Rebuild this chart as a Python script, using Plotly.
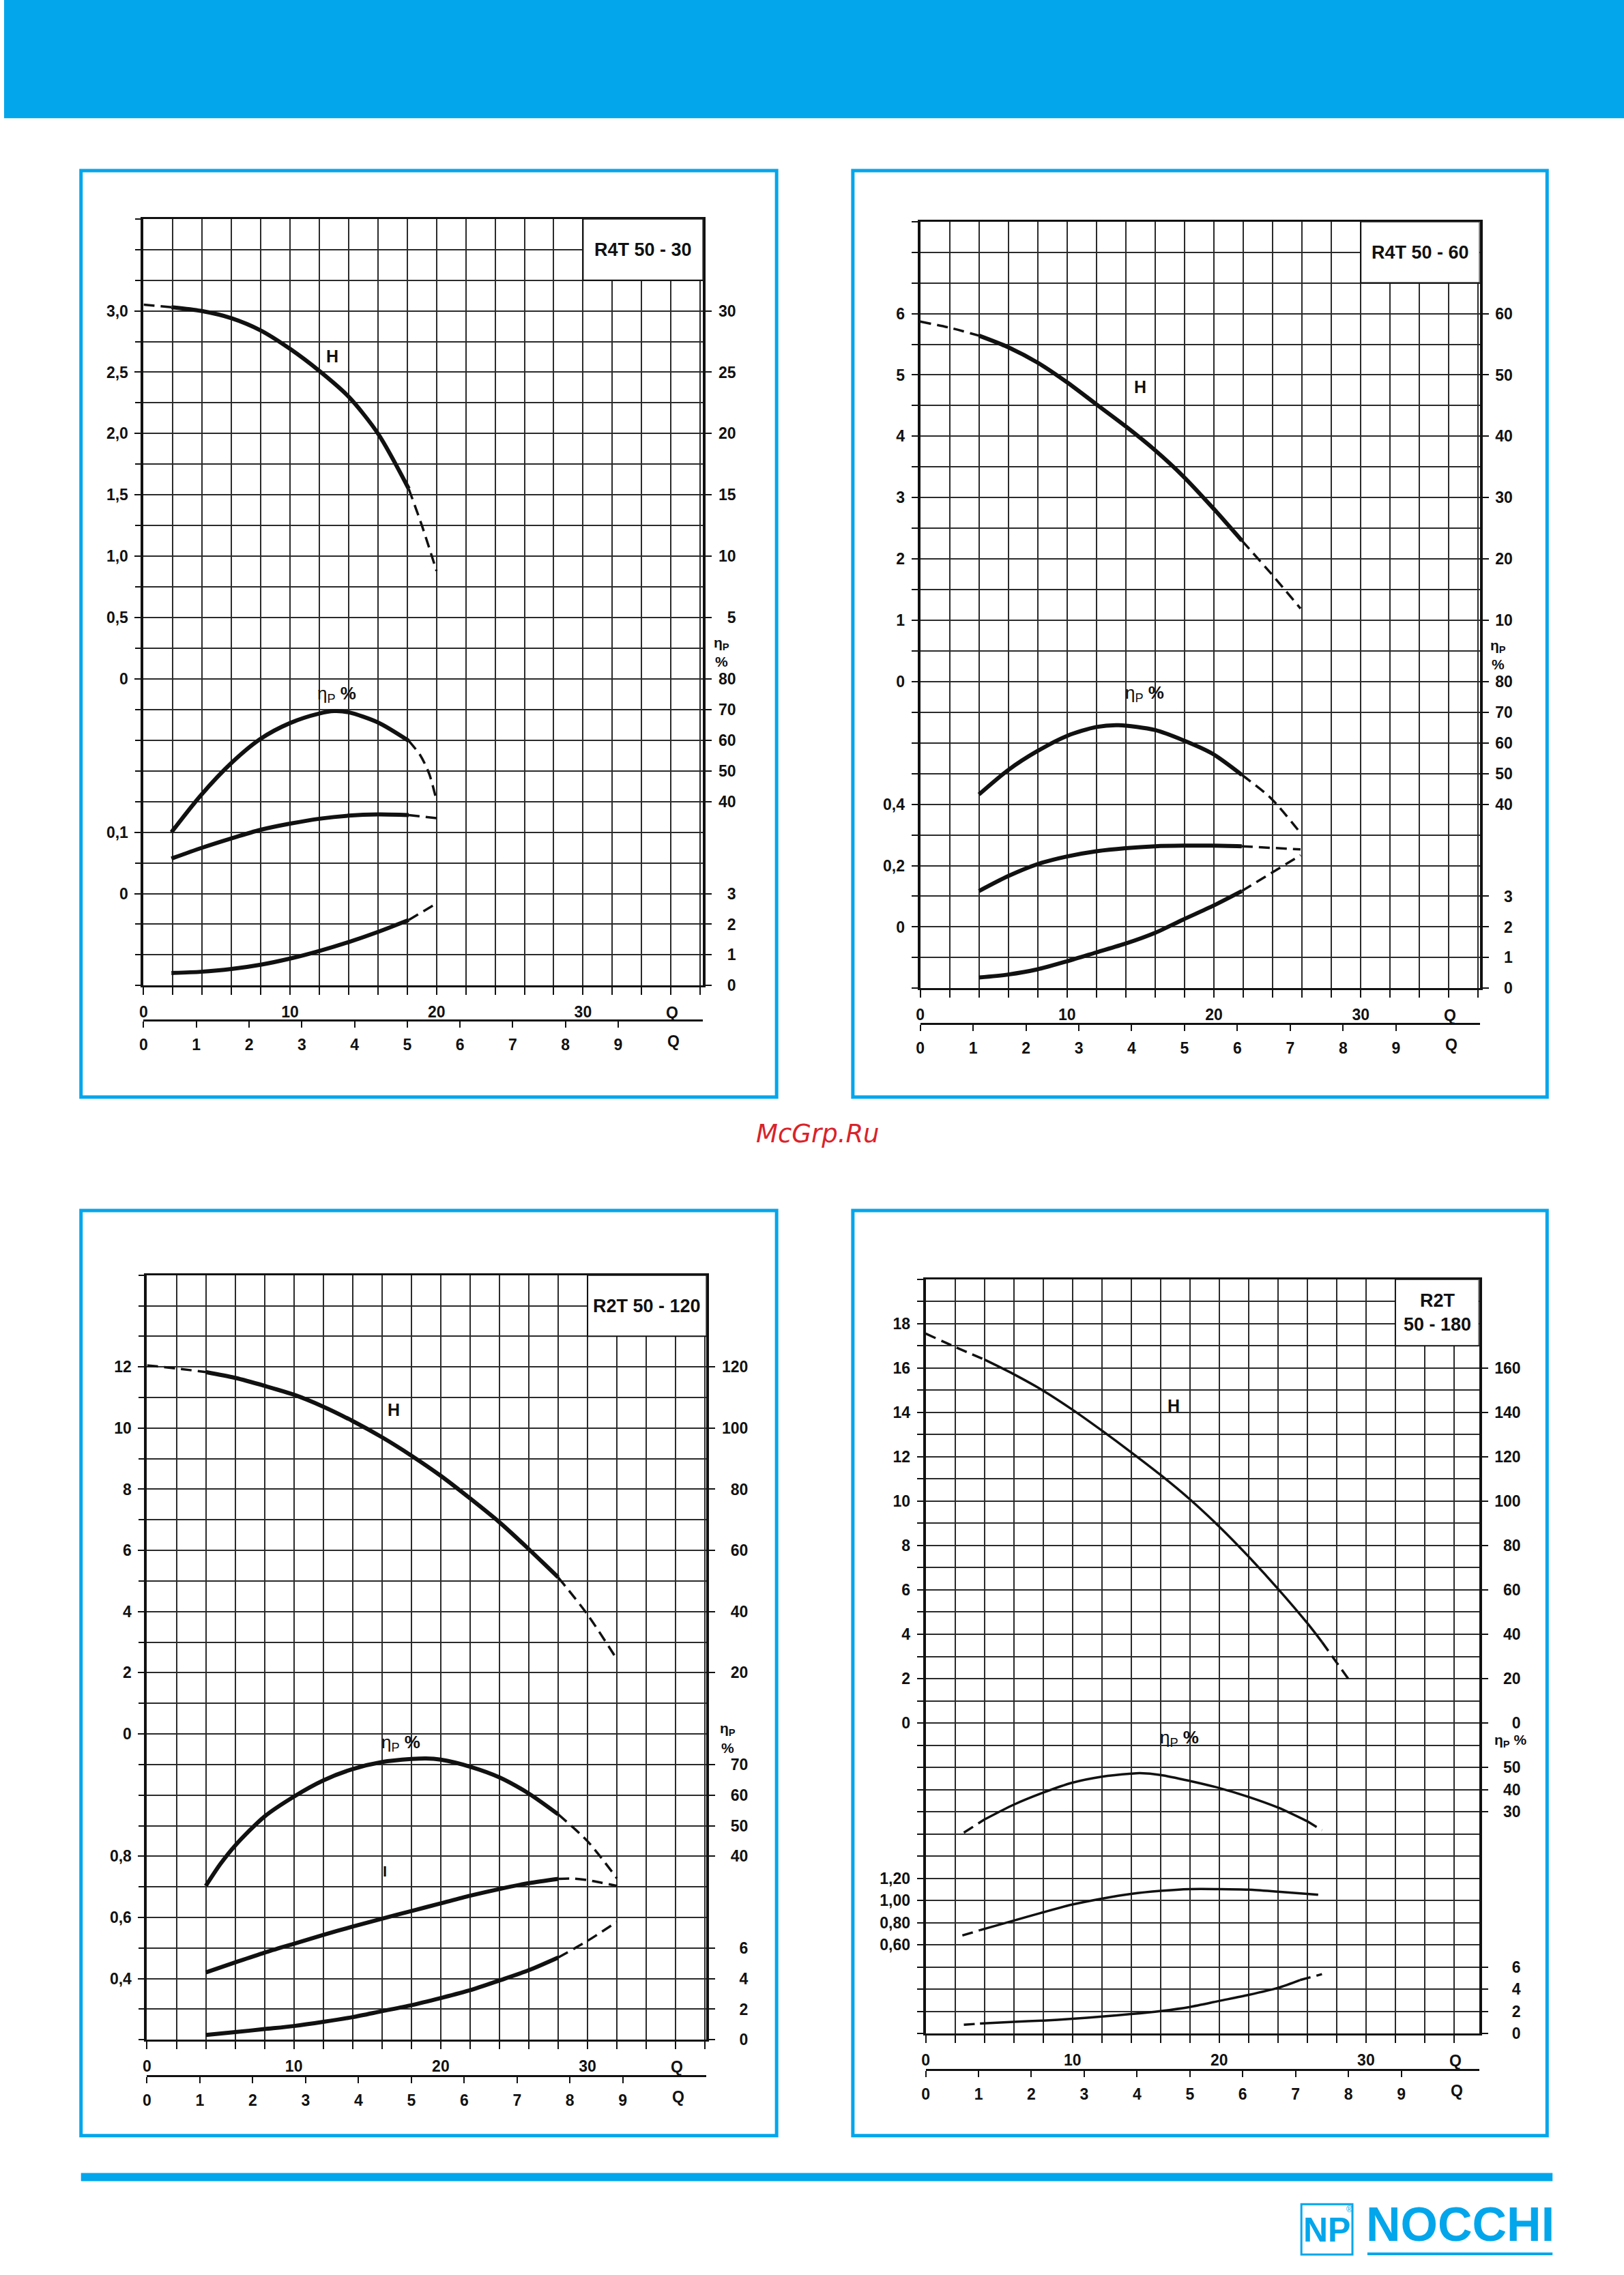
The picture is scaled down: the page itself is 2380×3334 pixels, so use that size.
import plotly.graph_objects as go

# ====================== DATA (read from the scanned sheet) ======================
Q_MAJOR_VALUES = [0, 10, 20, 30]
Q_MAJOR_LABELS = ['0', '10', '20', '30']
LS_TICKS = [0, 1, 2, 3, 4, 5, 6, 7, 8, 9]
LS_LABELS = ['0', '1', '2', '3', '4', '5', '6', '7', '8', '9']

# ---- R4T 50 - 30 ----
A_TITLE = 'R4T 50 - 30'
A_H_Q = [0, 1.9, 3.9, 6, 8, 10, 12, 14, 16, 18.1, 19, 20]
A_H = [3.05, 3.03, 3.00, 2.94, 2.84, 2.69, 2.51, 2.30, 2.00, 1.55, 1.25, 0.88]
A_ETA_Q = [1.9, 3.9, 6, 8, 10, 12, 13, 14, 16, 18.1, 18.9, 19.5, 20]
A_ETA = [30, 42, 52.6, 60.5, 65.6, 68.7, 69.5, 69.1, 65.8, 59.8, 55, 49, 40.3]
A_P_Q = [1.9, 3.9, 6, 8, 10, 12, 14, 16, 18.1, 20]
A_P = [0.057, 0.074, 0.090, 0.104, 0.114, 0.122, 0.127, 0.129, 0.128, 0.123]
A_NPSH_Q = [1.9, 3.9, 6, 8, 10, 12, 14, 16, 18.1, 20]
A_NPSH = [0.41, 0.45, 0.54, 0.68, 0.88, 1.13, 1.42, 1.75, 2.14, 2.68]
A_SOLID = [1.9, 18.1]
A_H_TICKS = [0, 0.5, 1.0, 1.5, 2.0, 2.5, 3.0]
A_H_LABELS = ['0', '0,5', '1,0', '1,5', '2,0', '2,5', '3,0']
A_HM_TICKS = [5, 10, 15, 20, 25, 30]
A_HM_LABELS = ['5', '10', '15', '20', '25', '30']
A_ETA_TICKS = [40, 50, 60, 70, 80]
A_ETA_LABELS = ['40', '50', '60', '70', '80']
A_P_TICKS = [0, 0.1]
A_P_LABELS = ['0', '0,1']
A_N_TICKS = [0, 1, 2, 3]
A_N_LABELS = ['0', '1', '2', '3']

# ---- R4T 50 - 60 ----
B_TITLE = 'R4T 50 - 60'
B_H_Q = [0, 2, 4, 6, 8, 10, 12, 14, 16, 17.9, 19.9, 21.9, 23.9, 25.9]
B_H = [5.87, 5.77, 5.64, 5.45, 5.20, 4.88, 4.52, 4.16, 3.77, 3.35, 2.84, 2.30, 1.76, 1.19]
B_ETA_Q = [4, 6, 8, 10, 12, 13.5, 16, 17.9, 19.9, 21.9, 23.9, 25.9]
B_ETA = [43.2, 51.2, 57.4, 62.3, 65.2, 65.8, 64.2, 60.9, 56.5, 49.6, 41.9, 30.6]
B_P_Q = [4, 6, 8, 10, 12, 14, 16, 17.9, 19.9, 21.9, 25.9]
B_P = [0.117, 0.166, 0.205, 0.230, 0.247, 0.257, 0.263, 0.265, 0.265, 0.263, 0.253]
B_NPSH_Q = [4, 6, 8, 10, 12, 14, 16, 17.9, 19.9, 21.9, 25.9]
B_NPSH = [0.35, 0.45, 0.62, 0.88, 1.17, 1.46, 1.81, 2.24, 2.68, 3.17, 4.34]
B_SOLID = [4, 21.9]
B_H_TICKS = [0, 1, 2, 3, 4, 5, 6]
B_H_LABELS = ['0', '1', '2', '3', '4', '5', '6']
B_HM_TICKS = [10, 20, 30, 40, 50, 60]
B_HM_LABELS = ['10', '20', '30', '40', '50', '60']
B_ETA_TICKS = [40, 50, 60, 70, 80]
B_ETA_LABELS = ['40', '50', '60', '70', '80']
B_P_TICKS = [0, 0.2, 0.4]
B_P_LABELS = ['0', '0,2', '0,4']
B_N_TICKS = [0, 1, 2, 3]
B_N_LABELS = ['0', '1', '2', '3']

# ---- R2T 50 - 120 ----
C_TITLE = 'R2T 50 - 120'
C_H_Q = [0, 2, 4, 6, 8, 10, 12, 14, 16, 18, 20, 22, 24, 26, 28, 30, 32]
C_H = [12.05, 11.95, 11.83, 11.64, 11.38, 11.09, 10.70, 10.23, 9.70, 9.10, 8.44, 7.70, 6.92, 6.04, 5.12, 3.90, 2.44]
C_ETA_Q = [4, 5, 6, 8, 10, 12, 14, 16, 18, 19, 20, 22, 24, 26, 28, 30, 32]
C_ETA = [30.3, 37.5, 43.5, 53.0, 59.5, 64.8, 68.5, 70.8, 71.8, 72.0, 71.6, 69.3, 65.8, 60.5, 53.7, 44.9, 32.8]
C_P_Q = [4, 6, 8, 10, 12, 14, 16, 18, 20, 22, 24, 26, 28, 29, 30, 32]
C_P = [0.420, 0.453, 0.485, 0.514, 0.543, 0.570, 0.596, 0.621, 0.646, 0.671, 0.693, 0.712, 0.726, 0.727, 0.722, 0.703]
C_NPSH_Q = [4, 6, 8, 10, 12, 14, 16, 18, 20, 22, 24, 26, 28, 30, 32]
C_NPSH = [0.31, 0.50, 0.70, 0.90, 1.17, 1.48, 1.87, 2.26, 2.73, 3.24, 3.88, 4.55, 5.38, 6.47, 7.72]
C_SOLID = [4, 28]
C_H_TICKS = [0, 2, 4, 6, 8, 10, 12]
C_H_LABELS = ['0', '2', '4', '6', '8', '10', '12']
C_HM_TICKS = [20, 40, 60, 80, 100, 120]
C_HM_LABELS = ['20', '40', '60', '80', '100', '120']
C_ETA_TICKS = [40, 50, 60, 70]
C_ETA_LABELS = ['40', '50', '60', '70']
C_P_TICKS = [0.4, 0.6, 0.8]
C_P_LABELS = ['0,4', '0,6', '0,8']
C_N_TICKS = [0, 2, 4, 6]
C_N_LABELS = ['0', '2', '4', '6']

# ---- R2T 50 - 180 ----
D_TITLE = 'R2T<br>50 - 180'
D_H_Q = [0, 2, 4, 6, 8, 10, 12, 14, 16, 18, 20, 22, 24, 26, 27, 29]
D_H = [17.55, 16.95, 16.38, 15.72, 14.98, 14.12, 13.18, 12.20, 11.18, 10.08, 8.85, 7.50, 6.05, 4.50, 3.65, 1.80]
D_ETA_Q = [2.6, 4, 6, 8, 10, 12, 14, 14.6, 16, 18, 20, 22, 24, 26, 27]
D_ETA = [20.6, 26.5, 33.2, 38.6, 43.1, 45.8, 47.2, 47.4, 46.6, 43.9, 40.7, 36.7, 31.9, 25.7, 21.7]
D_P_Q = [2.5, 3.7, 6, 8, 10, 12, 14, 16, 18, 20, 22, 24, 26, 26.9]
D_P = [0.685, 0.733, 0.819, 0.894, 0.964, 1.017, 1.060, 1.087, 1.103, 1.103, 1.098, 1.080, 1.060, 1.050]
D_NPSH_Q = [2.6, 3.7, 6, 8, 10, 12, 14, 16, 18, 20, 22, 24, 25.5, 27]
D_NPSH = [0.80, 0.91, 1.07, 1.18, 1.34, 1.55, 1.77, 2.04, 2.41, 2.95, 3.49, 4.13, 4.83, 5.36]
D_H_SOLID = [4, 27]
D_ETA_SOLID = [4, 26]
D_P_SOLID = [3.7, 26]
D_NPSH_SOLID = [3.7, 25.5]
D_H_TICKS = [0, 2, 4, 6, 8, 10, 12, 14, 16, 18]
D_H_LABELS = ['0', '2', '4', '6', '8', '10', '12', '14', '16', '18']
D_HM_TICKS = [0, 20, 40, 60, 80, 100, 120, 140, 160]
D_HM_LABELS = ['0', '20', '40', '60', '80', '100', '120', '140', '160']
D_ETA_TICKS = [30, 40, 50]
D_ETA_LABELS = ['30', '40', '50']
D_P_TICKS = [0.6, 0.8, 1.0, 1.2]
D_P_LABELS = ['0,60', '0,80', '1,00', '1,20']
D_N_TICKS = [0, 2, 4, 6]
D_N_LABELS = ['0', '2', '4', '6']

# ====================== STYLE / LAYOUT ======================
W, HT = 2380, 3334
BLUE = '#03A6EB'
INK = '#111111'
GRID = '#2b2b2b'
FONT = 'Liberation Sans, Arial, Helvetica, sans-serif'
FSP = '\u2007'
TICKFONT = dict(family=FONT, size=23, color=INK, weight='bold')

fig = go.Figure()
layout = dict(width=W, height=HT, margin=dict(l=0, r=0, t=0, b=0),
              paper_bgcolor='white', plot_bgcolor='white', showlegend=False,
              font=dict(family=FONT, color=INK))
shapes, annotations = [], []
counter = {'x': 0, 'y': 0}


def new_axis(kind):
    counter[kind] += 1
    n = counter[kind]
    name = '%saxis' % kind if n == 1 else '%saxis%d' % (kind, n)
    ref = kind if n == 1 else '%s%d' % (kind, n)
    return name, ref


def pad(labels, width):
    return [FSP * max(0, width - len(s)) + s for s in labels]


def empty_trace(xr, yr):
    fig.add_trace(go.Scatter(x=[], y=[], xaxis=xr, yaxis=yr, mode='lines',
                             showlegend=False, hoverinfo='skip'))


def add_curve(xr, yr, q, v, solid, w_solid, w_dash, dash):
    a, b = solid
    parts = [([i for i, qq in enumerate(q) if qq <= a], False),
             ([i for i, qq in enumerate(q) if a <= qq <= b], True),
             ([i for i, qq in enumerate(q) if qq >= b], False)]
    for idx, is_solid in parts:
        if len(idx) < 2:
            continue
        fig.add_trace(go.Scatter(
            x=[q[i] for i in idx], y=[v[i] for i in idx], mode='lines',
            xaxis=xr, yaxis=yr, hoverinfo='skip', showlegend=False,
            line=dict(color=INK, width=w_solid if is_solid else w_dash,
                      dash='solid' if is_solid else dash,
                      shape='spline', smoothing=0.8)))


def add_panel(c):
    x0, x1, yt, yb = c['plot']
    nrows, qmax = c['nrows'], c['qmax']
    bx0, by0, bx1, by1 = c['box']
    shapes.append(dict(type='rect', xref='paper', yref='paper', x0=bx0 / W, x1=bx1 / W,
                       y0=1 - by1 / HT, y1=1 - by0 / HT, line=dict(color=BLUE, width=5),
                       fillcolor='rgba(0,0,0,0)', layer='above'))

    gx_name, GX = new_axis('x')
    gy_name, GY = new_axis('y')
    grid_q = [q for q in range(0, 40, 2) if q <= qmax + 1e-9]
    layout[gx_name] = dict(domain=[x0 / W, x1 / W], anchor=GY, range=[0, qmax],
                           tickmode='array', tickvals=grid_q, showticklabels=False,
                           showgrid=True, gridcolor=GRID, gridwidth=2,
                           ticks='outside', ticklen=11, tickwidth=2, tickcolor=INK,
                           showline=True, mirror=True, linecolor=INK, linewidth=2.5,
                           zeroline=False, fixedrange=True)
    layout[gy_name] = dict(domain=[1 - yb / HT, 1 - yt / HT], anchor=GX, range=[0, nrows],
                           tickmode='array', tickvals=list(range(nrows + 1)),
                           showticklabels=False, showgrid=True, gridcolor=GRID, gridwidth=2,
                           ticks='outside', ticklen=9, tickwidth=2, tickcolor=INK,
                           showline=True, mirror=True, linecolor=INK, linewidth=3.5,
                           zeroline=False, fixedrange=True)
    empty_trace(GX, GY)

    # labels of the m3/h scale
    qx_name, QX = new_axis('x')
    layout[qx_name] = dict(overlaying=GX, anchor=GY, side='bottom', range=[0, qmax],
                           tickmode='array', tickvals=Q_MAJOR_VALUES, ticktext=Q_MAJOR_LABELS,
                           ticks='', showline=False, showgrid=False, zeroline=False,
                           tickfont=TICKFONT, ticklabelstandoff=23, fixedrange=True)
    empty_trace(QX, GY)

    # second flow axis in l/s
    lx_name, LX = new_axis('x')
    layout[lx_name] = dict(overlaying=GX, anchor='free', position=1 - c['ls_y'] / HT,
                           side='bottom', range=[0, qmax / 3.6], tickmode='array',
                           tickvals=LS_TICKS, ticktext=LS_LABELS,
                           ticks='outside', ticklen=9, tickwidth=2, tickcolor=INK,
                           showline=True, linecolor=INK, linewidth=2.5, showgrid=False,
                           zeroline=False, tickfont=TICKFONT, ticklabelstandoff=6,
                           fixedrange=True)
    empty_trace(LX, GY)
    annotations.append(dict(x=36.1, xref=GX, y=1 - (yb + 40) / HT, yref='paper', text='Q',
                            showarrow=False, font=TICKFONT, xanchor='center', yanchor='middle'))
    annotations.append(dict(x=10.05, xref=LX, y=1 - (c['ls_y'] + 31) / HT, yref='paper',
                            text='Q', showarrow=False, font=TICKFONT, xanchor='center',
                            yanchor='middle'))

    def vaxis(spec, side, width=None):
        name, ref = new_axis('y')
        ref_row, ref_val, per_row = spec['scale']
        lo = ref_val - ref_row * per_row
        hi = ref_val + (nrows - ref_row) * per_row
        labels = spec['labels'] if width is None else pad(spec['labels'], width)
        layout[name] = dict(overlaying=GY, anchor=GX, side=side, range=[lo, hi],
                            tickmode='array', tickvals=spec['ticks'], ticktext=labels,
                            ticks='outside', ticklen=12, tickwidth=2, tickcolor=INK,
                            showgrid=False, zeroline=False, showline=False,
                            tickfont=TICKFONT, ticklabelstandoff=5, fixedrange=True)
        return ref

    rw = c['rwidth']
    YH = vaxis(c['H'], 'left')
    YHM = vaxis(c['HM'], 'right', rw)
    YE = vaxis(c['ETA'], 'right', rw)
    YP = vaxis(c['P'], 'left')
    YN = vaxis(c['N'], 'right', rw)
    empty_trace(GX, YHM)

    ws, wd, dash = c['lw']
    for (q, v, solid), yr in zip(c['curves'], [YH, YE, YP, YN]):
        add_curve(GX, yr, q, v, solid, ws, wd, dash)

    # title box
    tq, tr = c['title_box']
    shapes.append(dict(type='rect', xref=GX, yref=GY, x0=tq, x1=qmax, y0=tr, y1=nrows,
                       fillcolor='white', line=dict(color=INK, width=2), layer='above'))
    annotations.append(dict(x=(tq + qmax) / 2, xref=GX, y=(tr + nrows) / 2, yref=GY,
                            text='<b>%s</b>' % c['title'], showarrow=False,
                            font=dict(family=FONT, size=27, color=INK),
                            xanchor='center', yanchor='middle'))
    # curve labels
    hq, hv = c['H_label']
    annotations.append(dict(x=hq, xref=GX, y=hv, yref=YH, text='<b>H</b>', showarrow=False,
                            font=dict(family=FONT, size=25, color=INK)))
    eq, ev = c['ETA_label']
    annotations.append(dict(x=eq, xref=GX, y=ev, yref=YE, text='η<sub>P</sub> <b>%</b>',
                            showarrow=False, font=dict(family=FONT, size=26, color=INK)))
    if 'I_label' in c:
        iq, iv = c['I_label']
        annotations.append(dict(x=iq, xref=GX, y=iv, yref=YP, text='<b>I</b>',
                                showarrow=False, font=dict(family=FONT, size=22, color=INK)))
    for txt, val in c['eta_unit']:
        annotations.append(dict(x=(x1 + c['eta_unit_dx']) / W, xref='paper', y=val, yref=YE,
                                text=txt, showarrow=False, xanchor='center', yanchor='middle',
                                font=dict(family=FONT, size=21, color=INK, weight='bold')))


panels = [
    dict(plot=(205, 1027, 322, 1450), box=(113, 251, 1135, 1614), ls_y=1501,
         qmax=38.2, nrows=25, title=A_TITLE, title_box=(30, 23), rwidth=2,
         H=dict(scale=(10, 0, 0.25), ticks=A_H_TICKS, labels=A_H_LABELS),
         HM=dict(scale=(10, 0, 2.5), ticks=A_HM_TICKS, labels=A_HM_LABELS),
         ETA=dict(scale=(10, 80, 10), ticks=A_ETA_TICKS, labels=A_ETA_LABELS),
         P=dict(scale=(3, 0, 0.05), ticks=A_P_TICKS, labels=A_P_LABELS),
         N=dict(scale=(0, 0, 1), ticks=A_N_TICKS, labels=A_N_LABELS),
         curves=[(A_H_Q, A_H, A_SOLID), (A_ETA_Q, A_ETA, A_SOLID),
                 (A_P_Q, A_P, A_SOLID), (A_NPSH_Q, A_NPSH, A_SOLID)],
         lw=(6, 3.5, '16px,9px'), H_label=(12.9, 2.63), ETA_label=(13.2, 75),
         eta_unit=[('η<sub>P</sub>', 91.5), ('%', 85.6)], eta_unit_dx=27),
    dict(plot=(1346, 2168, 326, 1454), box=(1247, 251, 2267, 1614), ls_y=1506,
         qmax=38.1, nrows=25, title=B_TITLE, title_box=(30, 23), rwidth=2,
         H=dict(scale=(10, 0, 0.5), ticks=B_H_TICKS, labels=B_H_LABELS),
         HM=dict(scale=(10, 0, 5), ticks=B_HM_TICKS, labels=B_HM_LABELS),
         ETA=dict(scale=(10, 80, 10), ticks=B_ETA_TICKS, labels=B_ETA_LABELS),
         P=dict(scale=(2, 0, 0.1), ticks=B_P_TICKS, labels=B_P_LABELS),
         N=dict(scale=(0, 0, 1), ticks=B_N_TICKS, labels=B_N_LABELS),
         curves=[(B_H_Q, B_H, B_SOLID), (B_ETA_Q, B_ETA, B_SOLID),
                 (B_P_Q, B_P, B_SOLID), (B_NPSH_Q, B_NPSH, B_SOLID)],
         lw=(6, 3.5, '16px,9px'), H_label=(15.0, 4.8), ETA_label=(15.3, 76),
         eta_unit=[('η<sub>P</sub>', 91.5), ('%', 85.6)], eta_unit_dx=27),
    dict(plot=(210, 1032, 1876, 3001), box=(113, 1781, 1135, 3142), ls_y=3054,
         qmax=38.1, nrows=25, title=C_TITLE, title_box=(30, 23), rwidth=3,
         H=dict(scale=(10, 0, 1), ticks=C_H_TICKS, labels=C_H_LABELS),
         HM=dict(scale=(10, 0, 10), ticks=C_HM_TICKS, labels=C_HM_LABELS),
         ETA=dict(scale=(10, 80, 10), ticks=C_ETA_TICKS, labels=C_ETA_LABELS),
         P=dict(scale=(2, 0.4, 0.1), ticks=C_P_TICKS, labels=C_P_LABELS),
         N=dict(scale=(0, 0, 2), ticks=C_N_TICKS, labels=C_N_LABELS),
         curves=[(C_H_Q, C_H, C_SOLID), (C_ETA_Q, C_ETA, C_SOLID),
                 (C_P_Q, C_P, C_SOLID), (C_NPSH_Q, C_NPSH, C_SOLID)],
         lw=(6, 3.5, '16px,9px'), H_label=(16.8, 10.6), ETA_label=(17.3, 77),
         I_label=(16.2, 0.75),
         eta_unit=[('η<sub>P</sub>', 81.5), ('%', 75.5)], eta_unit_dx=31),
    dict(plot=(1354, 2167, 1882, 2992), box=(1247, 1781, 2267, 3142), ls_y=3045,
         qmax=37.7, nrows=34, title=D_TITLE, title_box=(32, 31), rwidth=3,
         H=dict(scale=(14, 0, 1), ticks=D_H_TICKS, labels=D_H_LABELS),
         HM=dict(scale=(14, 0, 10), ticks=D_HM_TICKS, labels=D_HM_LABELS),
         ETA=dict(scale=(10, 30, 10), ticks=D_ETA_TICKS, labels=D_ETA_LABELS),
         P=dict(scale=(4, 0.6, 0.2), ticks=D_P_TICKS, labels=D_P_LABELS),
         N=dict(scale=(0, 0, 2), ticks=D_N_TICKS, labels=D_N_LABELS),
         curves=[(D_H_Q, D_H, D_H_SOLID), (D_ETA_Q, D_ETA, D_ETA_SOLID),
                 (D_P_Q, D_P, D_P_SOLID), (D_NPSH_Q, D_NPSH, D_NPSH_SOLID)],
         lw=(3.5, 3.5, '16px,9px'), H_label=(16.9, 14.3), ETA_label=(17.3, 63),
         eta_unit=[('η<sub>P</sub> %', 62)], eta_unit_dx=46),
]

for p in panels:
    add_panel(p)

# header band
shapes.append(dict(type='rect', xref='paper', yref='paper', x0=0, x1=1, y0=1 - 174 / HT, y1=1,
                   fillcolor=BLUE, line=dict(width=0), layer='above'))
# footer rule
shapes.append(dict(type='rect', xref='paper', yref='paper', x0=113 / W, x1=2275 / W,
                   y0=1 - 3209 / HT, y1=1 - 3197 / HT, fillcolor=BLUE, line=dict(width=0),
                   layer='above'))
# logo
shapes.append(dict(type='rect', xref='paper', yref='paper', x0=1906 / W, x1=1981 / W,
                   y0=1 - 3317 / HT, y1=1 - 3243 / HT, fillcolor='rgba(0,0,0,0)',
                   line=dict(color=BLUE, width=3), layer='above'))
shapes.append(dict(type='rect', xref='paper', yref='paper', x0=2003 / W, x1=2275 / W,
                   y0=1 - 3318 / HT, y1=1 - 3314 / HT, fillcolor=BLUE, line=dict(width=0),
                   layer='above'))
annotations.append(dict(x=1943 / W, y=1 - 3281 / HT, xref='paper', yref='paper', text='<b>NP</b>',
                        showarrow=False, xanchor='center', yanchor='middle',
                        font=dict(family=FONT, size=50, color=BLUE)))
annotations.append(dict(x=1976 / W, y=1 - 3251 / HT, xref='paper', yref='paper', text='®',
                        showarrow=False, xanchor='center', yanchor='middle',
                        font=dict(family=FONT, size=12, color=BLUE)))
annotations.append(dict(x=2139 / W, y=1 - 3273 / HT, xref='paper', yref='paper',
                        text='<b>NOCCHI</b>', showarrow=False, xanchor='center', yanchor='middle',
                        font=dict(family='Liberation Sans Narrow, ' + FONT, size=70, color=BLUE)))
# watermark
annotations.append(dict(x=1196 / W, y=1 - 1668 / HT, xref='paper', yref='paper',
                        text='<i>McGrp.Ru</i>', showarrow=False, xanchor='center',
                        yanchor='middle',
                        font=dict(family='DejaVu Sans, ' + FONT, size=37, color='#D9232B')))

layout['shapes'] = shapes
layout['annotations'] = annotations
fig.update_layout(**layout)
fig.write_html('out.html', config={'displayModeBar': False},
               default_width='2380px', default_height='3334px',
               post_script="document.documentElement.style.margin='0';"
                           "document.body.style.margin='0';document.body.style.padding='0';"
                           "document.documentElement.style.overflow='hidden';"
                           "var gd=document.getElementById('{plot_id}');"
                           "gd.style.position='absolute';gd.style.left='0px';gd.style.top='0px';")
